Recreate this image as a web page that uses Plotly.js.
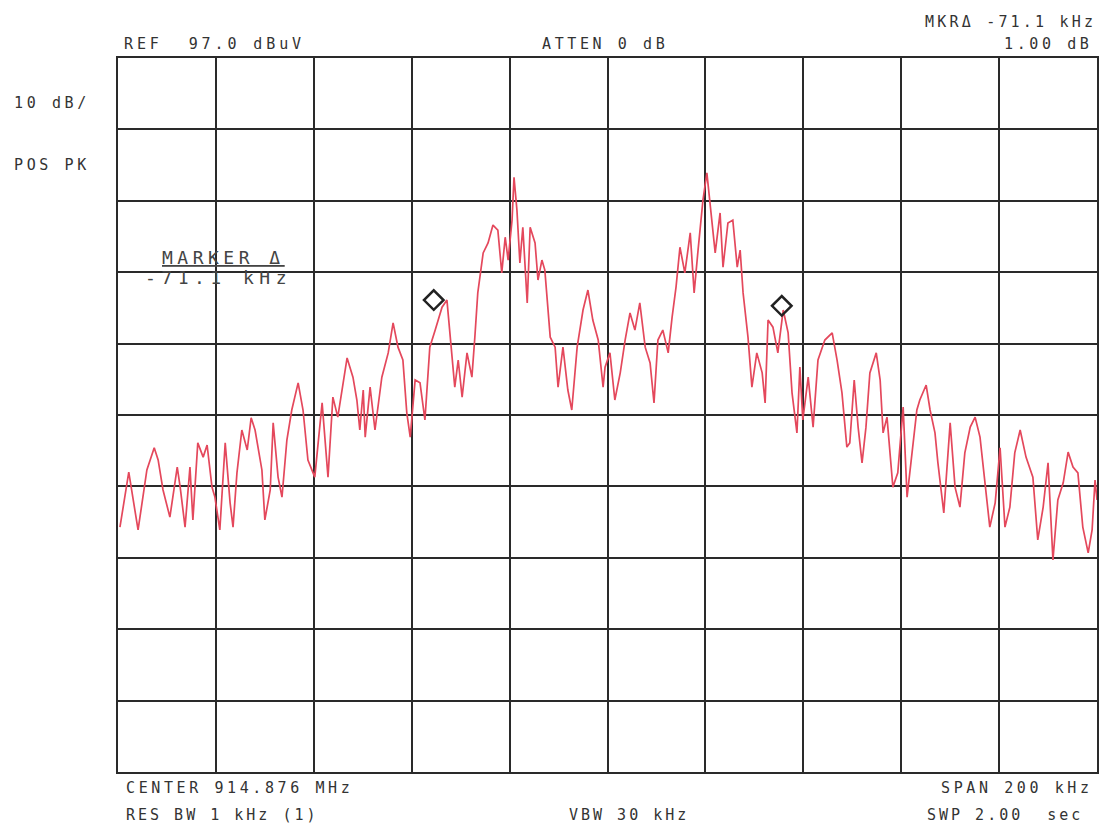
<!DOCTYPE html>
<html>
<head>
<meta charset="utf-8">
<script src="https://cdn.plot.ly/plotly-3.0.1.min.js"></script>
<style>html,body{margin:0;padding:0;background:#fff;}#chart{width:1107px;height:829px;}</style>
</head>
<body>
<div id="chart"></div>
<script>
// Frequency offset from center (kHz) and level (dBuV)
const freqKHz = [
-99.6,-97.8,-95.9,-95.1,-94.1,-92.6,-91.8,-90.8,-89.4,-87.9,-87.3,-86.3,-85.3,-84.7,-83.7,-82.6,-81.8,-80.8,-80.2,-79.2,
-78.1,-77.1,-76.5,-75.7,-74.7,-73.6,-72.8,-72.0,-70.6,-70.0,-68.9,-68.3,-67.3,-66.5,-65.5,-64.5,-63.2,-62.2,-61.2,-59.8,
-58.3,-57.1,-56.1,-55.1,-53.2,-52.0,-51.2,-50.6,-49.9,-49.5,-48.5,-47.5,-46.1,-44.8,-43.8,-42.8,-41.8,-41.0,-40.3,-39.3,
-38.3,-37.3,-36.3,-35.2,-33.8,-32.8,-32.2,-31.2,-30.5,-29.7,-28.7,-27.7,-27.1,-26.5,-25.4,-24.4,-23.4,-22.4,-21.6,-20.9,
-20.3,-19.5,-19.1,-18.5,-17.9,-17.3,-16.4,-15.8,-14.8,-14.2,-13.4,-12.8,-11.7,-10.7,-10.1,-9.1,-8.1,-7.3,-6.2,-5.0,
-4.0,-3.0,-1.9,-0.9,-0.5,0.5,1.5,2.6,3.6,4.6,5.6,6.6,7.7,8.7,9.5,10.3,11.3,12.4,13.2,14.0,
14.8,15.8,16.9,17.7,18.5,19.5,20.3,20.9,22.0,23.0,23.6,24.6,25.6,26.5,27.1,27.7,28.7,29.5,30.5,31.6,
32.2,32.8,33.8,34.8,35.9,36.9,37.7,38.7,39.3,39.9,41.0,42.0,43.0,44.4,45.9,46.9,47.9,48.9,49.5,50.4,
51.2,52.0,52.8,53.6,54.9,55.7,56.3,57.1,58.3,59.3,60.4,61.2,62.2,63.2,63.8,65.1,65.9,66.9,67.5,68.7,
70.0,71.0,72.0,73.0,74.1,75.1,76.1,77.1,78.1,79.2,80.2,81.2,82.2,83.2,84.3,85.5,86.9,87.9,89.0,90.0,
91.0,92.0,93.1,94.1,95.1,96.1,97.1,98.2,99.0,99.6,100.0
];
const levelDBuV = [
31.3,39.0,30.9,34.7,39.3,42.4,40.7,36.5,32.7,39.7,36.9,31.3,39.7,32.3,43.1,41.1,42.8,36.9,35.5,30.9,
43.1,34.7,31.3,38.9,44.9,42.1,46.6,44.9,39.3,32.3,36.5,45.9,38.3,35.5,43.5,47.7,51.5,47.7,40.7,38.3,
48.7,38.3,49.5,46.7,55.0,52.3,49.1,44.9,50.5,43.9,50.9,44.9,52.3,55.7,59.9,56.5,54.7,47.3,43.9,51.9,
51.5,46.3,56.5,58.9,62.1,63.1,58.5,50.9,54.7,49.5,55.7,52.3,57.9,64.1,69.7,71.1,73.6,72.9,66.9,71.9,
68.7,74.3,80.3,75.7,68.3,73.3,62.7,73.3,71.1,65.9,68.7,67.3,57.9,56.5,50.9,56.5,50.5,47.7,56.5,61.7,
64.5,60.3,57.5,50.9,53.7,55.7,49.1,52.9,57.5,61.3,58.9,62.7,56.5,54.3,48.7,57.5,58.9,55.7,60.7,64.9,
70.5,66.9,72.5,64.1,70.1,77.1,80.9,77.1,69.7,75.3,67.7,73.9,74.3,67.7,70.1,64.1,57.9,50.9,55.7,52.9,
48.7,60.3,59.3,55.7,61.7,58.5,50.1,44.5,53.7,46.3,52.3,45.3,54.7,57.5,58.5,54.7,50.1,42.5,43.1,51.9,
45.3,40.3,45.3,52.9,55.7,51.9,44.5,46.7,36.9,38.9,48.1,35.5,41.7,47.7,49.1,51.2,47.7,44.5,40.3,33.3,
45.9,36.9,34.1,41.7,45.3,46.7,43.9,37.5,31.3,34.7,42.4,31.3,34.1,41.7,44.9,41.1,38.3,29.5,34.1,40.3,
26.7,35.1,37.5,41.8,39.7,38.9,31.3,27.7,30.9,37.9,35.1
];
const markerFreqKHz = [-35.5, 35.6];
const markerLevelDBuV = [63.1, 62.3];

const refLevel = 97.0;
const dbPerDiv = 10;
const spanKHz = 200;

const txtFont = {family: 'DejaVu Sans Mono, monospace', size: 15, color: '#333'};
function spaced(t, ls) { return '<span style="letter-spacing:' + ls + 'px">' + t + '</span>'; }
function label(t, x, y, ls, extra) {
  return Object.assign({text: spaced(t, ls), xref: 'paper', yref: 'paper', x: x, y: y,
    xanchor: 'left', yanchor: 'middle', showarrow: false, font: txtFont}, extra || {});
}

const annotations = [
  label('10 dB/', -0.1083, 0.937, 3.6),
  label('POS PK', -0.1083, 0.850, 3.6),
  label('REF  97.0 dBuV', 0.004, 1.0196, 3.9),
  label('ATTEN 0 dB', 0.431, 1.0196, 3.6),
  label('MKR\u0394 -71.1 kHz', 0.822, 1.0504, 3.2),
  label('1.00 dB', 0.903, 1.0196, 3.6),
  label('CENTER 914.876 MHz', 0.006, -0.0224, 3.6),
  label('RES BW 1 kHz (1)', 0.006, -0.0602, 3.0),
  label('VBW 30 kHz', 0.4586, -0.0602, 3.0),
  label('SPAN 200 kHz', 0.8386, -0.0224, 3.6),
  label('SWP 2.00  sec', 0.8243, -0.0602, 3.0),
  label('MARKER \u0394', 0.043, 0.721, 4.5,
    {font: {family: 'DejaVu Sans Mono, monospace', size: 18, color: '#444', lineposition: 'under'}}),
  label('-71.1 kHz', 0.026, 0.692, 5.5,
    {font: {family: 'DejaVu Sans Mono, monospace', size: 18, color: '#444'}})
];

const data = [
  {x: freqKHz, y: levelDBuV, type: 'scatter', mode: 'lines',
   line: {color: '#e4485c', width: 1.7}, hoverinfo: 'skip'},
  {x: markerFreqKHz, y: markerLevelDBuV, type: 'scatter', mode: 'markers',
   marker: {symbol: 'diamond-open', size: 15, color: '#222', line: {width: 2.5, color: '#222'}},
   hoverinfo: 'skip'}
];

const layout = {
  width: 1107, height: 829,
  margin: {l: 118, r: 10, t: 58, b: 57},
  paper_bgcolor: '#fff', plot_bgcolor: '#fff',
  showlegend: false,
  xaxis: {range: [-spanKHz / 2, spanKHz / 2], dtick: spanKHz / 10, tick0: 0,
    showticklabels: false, ticks: '', zeroline: false,
    showgrid: true, gridcolor: '#2a2a2a', gridwidth: 2,
    showline: true, mirror: true, linecolor: '#2a2a2a', linewidth: 2},
  yaxis: {range: [refLevel - 10 * dbPerDiv, refLevel], dtick: dbPerDiv, tick0: refLevel,
    showticklabels: false, ticks: '', zeroline: false,
    showgrid: true, gridcolor: '#2a2a2a', gridwidth: 2,
    showline: true, mirror: true, linecolor: '#2a2a2a', linewidth: 2},
  annotations: annotations
};

Plotly.newPlot('chart', data, layout, {staticPlot: true, displayModeBar: false});
</script>
</body>
</html>
